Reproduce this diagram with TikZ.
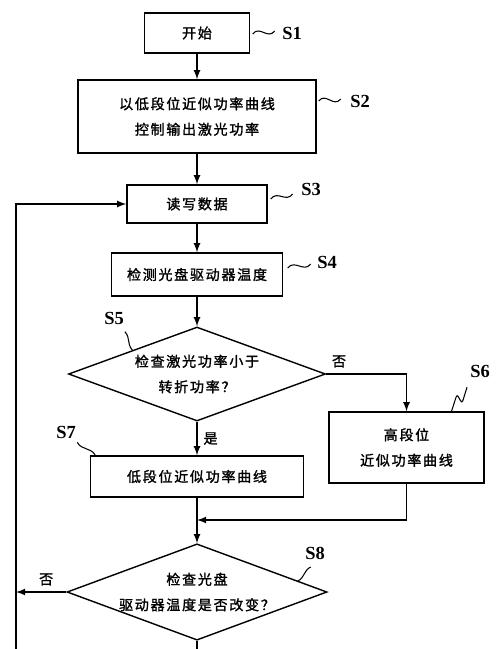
\documentclass[tikz,border=0pt]{standalone}
\usepackage{fontspec}
\setmainfont{Liberation Serif}
\newfontfamily\cjk[LetterSpace=12,FakeBold=1.5]{Noto Sans CJK SC}
\usetikzlibrary{shapes.geometric}

\begin{document}
\begin{tikzpicture}[->,x=0.2mm,y=0.2mm,>=latex,thick,node distance=2cm]
    \tikzstyle{every node}=[font=\cjk\fontsize{8}{14.5}\selectfont];
    \tikzstyle{stepbox}=[shape=rectangle,draw,align=center];
    \tikzstyle{test}=[shape=diamond,draw,align=center,inner sep=0pt,aspect=2.7,minimum width=5.14cm,minimum height=1.88cm];
    \tikzstyle{tag}=[font=\rmfamily\bfseries\fontsize{10.5}{12}\selectfont];
    \tikzstyle{lead}=[-,line width=0.6pt];

    \useasboundingbox (0,0) rectangle (500,-649);

    \node[stepbox,minimum width=2.1cm,minimum height=0.8cm] (s1) at (197,-33) {开始};
    \node[stepbox,minimum width=4.76cm,minimum height=1.46cm] (s2) [below of=s1,node distance=1.67cm] {以低段位近似功率曲线\\控制输出激光功率};
    \node[stepbox,minimum width=2.8cm,minimum height=0.76cm] (s3) [below of=s2,node distance=1.75cm] {读写数据};
    \node[stepbox,minimum width=3.42cm,minimum height=0.86cm] (s4) [below of=s3,node distance=1.41cm] {检测光盘驱动器温度};
    \node[test] (s5) [below of=s4,node distance=1.99cm] {检查激光功率小于\\转折功率？};
    \node[stepbox,minimum width=3.1cm,minimum height=1.42cm] (s6) [right of=s5,node distance=4.19cm,yshift=-1.47cm] {高段位\\近似功率曲线};
    \node[stepbox,minimum width=4.26cm,minimum height=0.82cm] (s7) [below of=s5,node distance=2.05cm] {低段位近似功率曲线};
    \node[test] (s8) [below of=s7,node distance=2.31cm] {检查光盘\\驱动器温度是否改变？};

    \node[tag] (l1) [right of=s1,node distance=1.9cm] {S1};
    \node[tag] (l2) [right of=s2,node distance=3.26cm,yshift=0.31cm] {S2};
    \node[tag] (l3) [right of=s3,node distance=2.28cm,yshift=0.3cm] {S3};
    \node[tag] (l4) [right of=s4,node distance=2.6cm,yshift=0.25cm] {S4};
    \node[tag] (l5) [left of=s5,node distance=1.66cm,yshift=1.12cm] {S5};
    \node[tag] (l6) [right of=s6,node distance=1.47cm,yshift=1.53cm] {S6};
    \node[tag] (l7) [left of=s7,node distance=2.62cm,yshift=0.89cm] {S7};
    \node[tag] (l8) [right of=s8,node distance=2.36cm,yshift=0.78cm] {S8};

    \coordinate[below of=s7,node distance=0.87cm] (m);
    \coordinate (lp) at (16,-680);
    \coordinate[below of=s8,node distance=1.8cm] (bt);

    \draw (s1) -- (s2);
    \draw (s2) -- (s3);
    \draw (s3) -- (s4);
    \draw (s4) -- (s5);
    \draw (s5) -- node[right] (y1) {是} (s7);
    \draw (s5.east) -| node[pos=0.08,above] (n1) {否} (s6.north);
    \draw (s6.south) |- (m);
    \draw (s7) -- (s8);
    \draw (s8.west) -- node[pos=0.4,above] (n2) {否} (s8.west -| lp);
    \draw (lp) |- (s3.west);
    \draw[-] (s8) -- node[pos=0.37,right] (y2) {是} (bt);

    % wavy leaders to the step tags
    \draw[lead] (s1.east) ++(2.5,-1) .. controls +(7,9) and +(-7,-9) .. ++(22,3);
    \draw[lead] (s2.east) ++(2,15.5) .. controls +(7,9) and +(-7,-9) .. ++(22,2);
    \draw[lead] (s3.east) ++(3,5) .. controls +(7,9) and +(-7,-9) .. ++(22,5);
    \draw[lead] (s4.east) ++(4.5,6.5) .. controls +(7,9) and +(-7,-9) .. ++(23,4);
    \draw[lead] (s5.north west) .. controls +(-6,7) and +(6,-7) .. ++(-7.5,18.5);
    \draw[lead,rounded corners=1.5pt] (s6.north) ++(45,0) -- ++(5.5,17) -- ++(5,-9) -- ++(5,16);
    \draw[lead] (s7.north west) ++(5.5,0) .. controls +(-4,8) and +(4,-8) .. ++(-18,13);
    \draw[lead] (s8.east) ++(-30,11) .. controls +(7,3) and +(-7,-3) .. ++(13,14);

\end{tikzpicture}
\end{document}
